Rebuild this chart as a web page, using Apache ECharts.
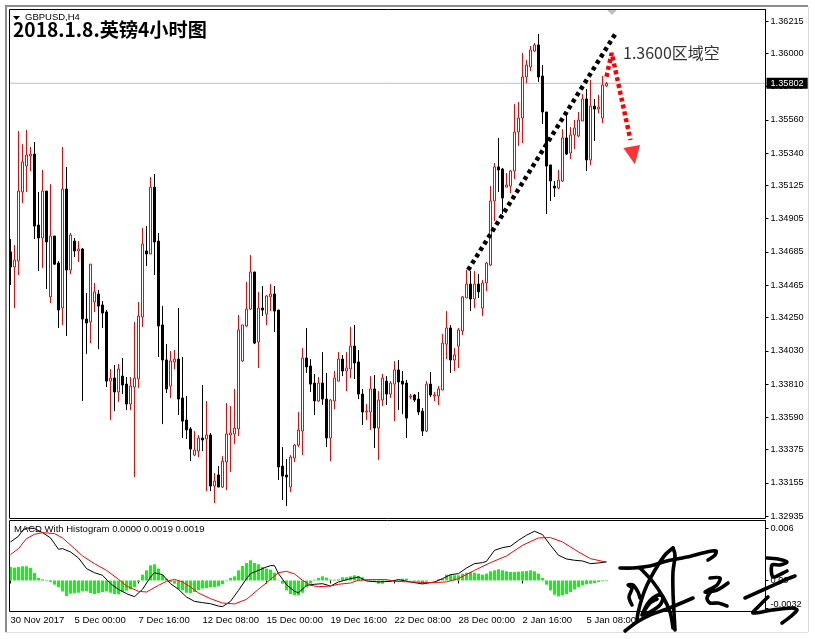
<!DOCTYPE html>
<html>
<head>
<meta charset="utf-8">
<script src="https://cdn.jsdelivr.net/npm/echarts@6/dist/echarts.min.js"></script>
<style>html,body{margin:0;padding:0;background:#fff}#c{width:815px;height:639px}</style>
</head>
<body>
<div id="c"></div>
<script>
// GBPUSD H4 prices in 1/100000 units, one entry per candle
const highs = [134770,134731,135486,135399,135493,135380,135413,135082,135228,135088,135134,134790,134624,135380,135248,134810,134777,134757,134711,134413,134604,134479,134433,134359,134300,133909,133936,133942,133982,133856,133856,134221,134353,134843,134856,135182,135201,134810,134326,134074,134028,134035,134313,133989,133730,133525,133498,133472,133803,133697,133485,133220,133266,133332,133684,133664,133777,134267,134201,134486,134664,134552,134420,134459,134400,134472,134459,134300,133392,133313,133339,133412,133624,134048,134181,133975,133876,133856,134021,133883,133710,133896,134021,134002,134021,134188,134201,134035,133777,133677,133862,133869,133763,133876,133862,133829,133962,133969,133896,133836,133743,133743,133757,133651,133829,133890,133757,133796,134141,134293,134201,134048,134181,134393,134565,134558,134558,134538,134499,134618,135121,135274,135440,135241,135208,135228,135664,135678,136003,135956,136049,136069,136129,135923,135612,135261,135155,135228,135499,135605,135512,135559,135612,135731,135764,135824,135698,135725,135850,135811];
const opens = [134685,134585,134624,135082,135254,135320,135333,134863,134777,135088,134387,134790,134611,134313,135101,134565,134757,134691,134704,134240,134221,134353,134406,134333,134287,133829,133849,133757,133862,133809,133677,133790,133843,134254,134691,134671,135114,134757,134201,133969,133796,133956,133975,133717,133571,133512,133339,133365,133452,133445,133472,133134,133207,133127,133293,133472,133479,133512,133962,134194,134306,134552,134088,134313,134273,134387,134406,134300,133266,133207,133127,133319,133405,133498,133982,133929,133816,133697,133816,133710,133452,133697,133829,133975,133896,133909,134061,133956,133743,133624,133624,133777,133518,133704,133829,133743,133809,133903,133829,133816,133723,133737,133710,133630,133498,133809,133730,133730,133770,134074,134181,133969,134061,134161,134380,134472,134373,134472,134313,134479,134598,135022,135248,135234,135114,135121,135221,135479,135572,135844,135910,136016,136056,135850,135612,135261,135121,135108,135155,135440,135340,135460,135453,135552,135698,135294,135651,135631,135572,135785];
const closes = [134585,134631,135088,135281,135327,135333,134856,134777,135088,134751,134790,134604,134300,135101,134565,134797,134691,134704,134240,134214,134604,134420,134326,134280,133829,133849,133757,133909,133803,133677,133796,133849,134260,134737,134671,135114,134751,134194,133969,133777,133962,133975,133710,133564,133505,133379,133372,133452,133439,133472,133134,133167,133127,133299,133479,133485,133518,134168,134201,134306,134552,134081,134313,134300,134393,134406,134293,133260,133200,133194,133326,133405,133505,133982,133923,133809,133697,133816,133710,133452,133704,133849,133975,133896,133916,134061,133949,133743,133624,133630,133777,133518,133704,133849,133743,133816,133903,133823,133809,133584,133730,133704,133624,133498,133809,133737,133737,133777,134081,134181,133969,134002,134168,134387,134472,134373,134472,134420,134479,134611,135022,135248,135228,135042,135128,135221,135479,135572,135844,135923,136023,136056,135844,135612,135254,135155,135108,135161,135440,135333,135460,135506,135559,135698,135294,135651,135631,135645,135791,135802];
const lows = [134466,134313,134532,135009,135082,135221,134770,134558,134578,134439,134346,134598,134181,134201,134128,134538,134651,134618,133697,134008,134081,134287,134041,134181,133790,133571,133630,133691,133743,133637,133637,133194,133783,134188,134591,134671,134532,133989,133544,133750,133717,133909,133604,133452,133445,133299,133332,133326,133365,133100,133100,133021,133127,133121,133107,133227,133412,133465,133956,134188,134300,134074,133916,134260,134201,134293,134155,133174,133041,133001,133094,133293,133392,133339,133883,133757,133604,133691,133671,133392,133299,133644,133829,133862,133763,133849,133843,133710,133538,133571,133505,133386,133306,133664,133671,133717,133564,133637,133610,133452,133710,133691,133604,133465,133491,133723,133697,133671,133770,133975,133883,133896,133916,134135,134380,134293,134313,134380,134260,134426,134591,134890,135082,134936,135114,135075,135168,135387,135406,135804,135883,136009,135811,135532,134936,135022,135049,135101,135148,135327,135300,135367,135446,135552,135221,135261,135420,135605,135539,135778];
// MACD pane
const histogram = [.00156,.00148,.00156,.00164,.00164,.00144,.00087,.00029,.00013,-.00006,-.00017,-.00048,-.00075,-.00125,-.00179,-.00152,-.00144,-.00141,-.00125,-.00121,-.00144,-.00156,-.00144,-.00133,-.00125,-.00141,-.00156,-.0016,-.00133,-.00117,-.00102,-.00075,-.00017,.00067,.00117,.00175,.00187,.00137,.00067,.00021,-.00017,-.00037,-.00102,-.00114,-.00141,-.00144,-.00133,-.0011,-.00094,-.00087,-.00079,-.00075,-.00067,-.00044,-.00006,.00029,.00048,.00117,.00167,.00202,.00233,.00202,.00187,.00156,.00137,.00125,.0009,.00002,-.00037,-.00114,-.00156,-.00171,-.00171,-.00141,-.00075,-.00037,.0001,.00029,.00048,.00033,.0001,.0001,.00013,.00037,.00037,.00048,.0006,.00052,.00037,.00013,-.0001,-.00013,-.00037,-.00037,-.00017,-.0001,.00002,.00013,.00021,.00021,-.00002,-.0001,-.00013,-.00037,-.00013,.00002,.00002,.00013,.00021,.00067,.00067,.0006,.0006,.00079,.0009,.00098,.0009,.00079,.00067,.00079,.00106,.00117,.00129,.00117,.00106,.00098,.00098,.00102,.00106,.0011,.00117,.00106,.00079,.00029,-.00048,-.00114,-.00164,-.00183,-.00171,-.00156,-.00133,-.00102,-.00075,-.00056,-.00044,-.00037,-.00029,-.00017,-.0001,-.00006];
const macdAt = [0,2,3,4,6,8,10,12,13,15,17,19,21,23,25,27,29,31,33,35,36,38,40,42,44,46,48,50,52,53,55,57,59,60,62,64,65,66,67,69,71,72,74,76,78,80,82,85,87,89,92,95,97,100,103,106,108,110,112,114,116,118,119,121,123,125,127,129,131,133,135,137,139,141,143,145,147,149];
const macdVal = [.00445,.0051,.00579,.00606,.00599,.00552,.00491,.0036,.00368,.00329,.0026,.00137,.0009,.0006,-.00037,-.00102,-.00152,-.00187,-.00102,.0004,.0009,.00067,-.00037,-.00102,-.00191,-.00241,-.00256,-.00268,-.00295,-.00302,-.00241,-.00114,.00021,.00079,.00117,.00156,.00171,.00171,.00079,-.00048,-.00125,-.00141,-.00056,-.00044,-.00037,-.00064,-.00017,.00021,.0004,-.00006,-.00017,-.0001,.0001,-.00017,-.0004,-.00017,.00021,.00067,.00079,.00144,.00194,.00206,.00221,.00348,.00379,.00395,.00464,.00522,.00568,.00529,.00406,.00291,.00248,.00233,.00225,.00194,.00202,.00214];
const signalAt = [0,2,4,6,8,11,13,16,18,21,24,27,29,32,34,37,39,41,43,45,47,50,53,56,59,62,65,67,69,71,73,75,77,80,82,85,87,90,94,96,100,105,109,112,116,120,124,128,132,135,138,142,145,148,149];
const signalVal = [.00298,.00368,.00483,.00533,.00552,.00541,.00491,.00368,.00283,.00194,.00117,.00013,-.00064,-.00125,-.00133,-.00056,-.0001,.00013,-.00017,-.00075,-.00144,-.0021,-.0026,-.00271,-.00218,-.00102,.00013,.0009,.00106,.00075,.00002,-.00056,-.00071,-.00064,-.00044,-.00029,.00002,.0001,.0001,-.0001,-.00017,-.00025,-.00017,.00021,.00117,.00206,.00283,.00406,.00491,.00495,.00445,.00329,.00252,.00221,.00214];
// axes
const priceTicks = [1.36215,1.36,1.3578,1.3556,1.3534,1.35125,1.34905,1.34685,1.34465,1.3425,1.3403,1.3381,1.3359,1.33375,1.33155,1.32935];
const macdTicks = [0.006,0,-0.0032];
const timeLabels = ['30 Nov 2017','5 Dec 00:00','7 Dec 16:00','12 Dec 08:00','15 Dec 00:00','19 Dec 16:00','22 Dec 08:00','28 Dec 00:00','2 Jan 16:00','5 Jan 08:00'];
const labelStep = 16, totalBands = 189, lastPrice = 1.35802;
// annotations drawn on the chart: candle position, price
const trendX = [114.4,151.5], trendY = [1.34565,1.36142];
const arrowX = [149,150.3,155], arrowY = [1.35846,1.36003,1.35426];
const arrowHead = [155.7,1.35325];

const categories = Array.from({length:totalBands},(_,i)=> i%labelStep===0 && timeLabels[i/labelStep] ? timeLabels[i/labelStep] : '');
const hasLabel = i => categories[i] !== '';
const candle = opens.map((o,i)=>[o/1e5,closes[i]/1e5,lows[i]/1e5,highs[i]/1e5]);
const FONT = '"Liberation Sans",sans-serif';

const signature = [
 [[620,568],[633,568],[650,566],[667,561],[687,557],[707,552],[716,551],[715,555],[708,560]],
 [[625,631],[637,622],[650,615],[667,609],[693,598]],
 [[673,548],[665,555],[655,570],[647,585],[642,598],[638,613],[637,620]],
 [[673,548],[675,555],[673,572],[673,592],[674,612],[675,630]],
 [[640,568],[653,582],[663,597],[670,612],[673,628]],
 [[632,605],[629,597],[632,588],[628,585],[633,585],[638,592],[640,598]],
 [[642,615],[648,603],[658,595],[663,597],[660,605],[650,612],[643,614],[650,603],[657,599]],
 [[710,578],[720,578],[717,585],[705,592],[717,590],[728,583]],
 [[712,590],[707,598],[710,603],[718,603],[727,606]],
 [[767,558],[778,559],[787,562],[780,565],[772,565],[773,577],[783,573],[787,571]],
 [[745,598],[765,589],[785,580],[795,576]],
 [[768,597],[758,607],[753,613],[772,610],[792,608],[797,610],[790,617],[782,623]]
];
const line = (x1,y1,x2,y2,color,w)=>({type:'line',silent:true,z:5,shape:{x1,y1,x2,y2},style:{stroke:color,lineWidth:w||1}});
const graphics = [
 line(5,6,808,6,'#8c8c8c',2), line(6,5,6,632,'#8c8c8c',2), line(808.5,7,808.5,632,'#d8d8d8',1), line(5,632.5,808,632.5,'#e0e0e0',1),
 line(9.5,9.5,765.5,9.5,'#000'), line(9.5,9.5,9.5,518,'#000'), line(9.5,518.5,765.5,518.5,'#000'),
 line(9.5,520.5,765.5,520.5,'#000'), line(9.5,520.5,9.5,611.5,'#000'), line(9.5,611.5,765.5,611.5,'#000'),
 {type:'polygon',silent:true,z:5,shape:{points:[[607,10],[617,10],[612,15]]},style:{fill:'#c0c0c0'}},
 {type:'polygon',silent:true,z:5,shape:{points:[[13,16],[20,16],[16.5,20]]},style:{fill:'#000'}},
 {type:'text',silent:true,z:6,x:25,y:12,style:{text:'GBPUSD,H4',font:'9.5px '+FONT,fill:'#000'}},
 {type:'text',silent:true,z:7,x:13,y:20,style:{text:'2018.1.8.英镑4小时图',font:'bold 19.2px "Noto Sans CJK SC"',fill:'#000'}},
 {type:'text',silent:true,z:7,x:623,y:45,style:{text:'1.3600区域空',font:'16px "Noto Sans CJK SC"',fill:'#333'}},
 {type:'text',silent:true,z:6,x:14,y:524,style:{text:'MACD With Histogram 0.0000 0.0019 0.0019',font:'9.5px '+FONT,fill:'#000'}}
];
signature.forEach(p=>graphics.push({type:'polyline',silent:true,z:20,shape:{points:p,smooth:0.3},style:{stroke:'#000',lineWidth:3.6,fill:null,lineCap:'round',lineJoin:'round'}}));

const chart = echarts.init(document.getElementById('c'),null,{renderer:'canvas'});
chart.setOption({
 animation:false,
 backgroundColor:'#fff',
 graphic:{elements:graphics},
 grid:[
  {left:8.5,top:9.5,width:756,height:508.5},
  {left:8.5,top:520.5,width:756,height:91}
 ],
 xAxis:[
  {type:'category',gridIndex:0,data:categories,show:false},
  {type:'category',gridIndex:1,data:categories,position:'bottom',
   axisLine:{show:false},
   axisTick:{show:true,length:3,alignWithLabel:true,interval:hasLabel,lineStyle:{color:'#000'}},
   axisLabel:{show:true,interval:hasLabel,align:'left',margin:4,fontSize:9.5,fontFamily:FONT,color:'#000',hideOverlap:false}},
  {type:'value',gridIndex:0,show:false,min:-0.5,max:totalBands-0.5}
 ],
 yAxis:[
  {type:'value',gridIndex:0,position:'right',offset:1,min:1.32922,max:1.36291,scale:true,splitLine:{show:false},
   axisLine:{show:true,onZero:false,lineStyle:{color:'#000'}},
   axisTick:{show:true,length:3,customValues:priceTicks,lineStyle:{color:'#000'}},
   axisLabel:{show:true,customValues:priceTicks,margin:5,fontSize:9.2,fontFamily:FONT,color:'#000',showMinLabel:true,showMaxLabel:true,
     formatter:v=>Number(v).toFixed(5)}},
  {type:'value',gridIndex:1,position:'right',offset:1,min:-0.00358,max:0.00692,splitLine:{show:false},
   axisLine:{show:true,onZero:false,lineStyle:{color:'#000'}},
   axisTick:{show:true,length:3,customValues:macdTicks,lineStyle:{color:'#000'}},
   axisLabel:{show:true,customValues:macdTicks,margin:5,fontSize:9.2,fontFamily:FONT,color:'#000',
     formatter:v=> v===0?'0.00':(v<0?'{low|'+v+'}':String(v)),
     rich:{low:{fontSize:9.2,fontFamily:FONT,color:'#000',padding:[0,0,7,0]}}}}
 ],
 series:[
  {type:'line',name:'last',xAxisIndex:2,yAxisIndex:0,data:[[-0.5,lastPrice],[totalBands-0.5,lastPrice]],showSymbol:false,silent:true,z:1,
   lineStyle:{color:'#c0c0c0',width:1},
   endLabel:{show:true,distance:2,formatter:()=>lastPrice.toFixed(5),backgroundColor:'#000',color:'#fff',fontSize:9.2,fontFamily:FONT,padding:[1,4,1,4]}},
  {type:'candlestick',name:'GBPUSD',xAxisIndex:0,yAxisIndex:0,data:candle,barWidth:2,clip:true,z:2,
   itemStyle:{color:'#fff',color0:'#000',borderColor:'#f00',borderColor0:'#000',borderWidth:1}},
  {type:'line',name:'trend',xAxisIndex:2,yAxisIndex:0,data:trendX.map((x,i)=>[x,trendY[i]]),showSymbol:false,silent:true,z:6,
   lineStyle:{color:'#000',width:4.5,type:[4,3.6]}},
  {type:'line',name:'short',xAxisIndex:2,yAxisIndex:0,data:arrowX.map((x,i)=>[x,arrowY[i]]),showSymbol:false,silent:true,z:6,
   lineStyle:{color:'#f00',width:4.5,type:[4,3]}},
  {type:'scatter',name:'head',xAxisIndex:2,yAxisIndex:0,data:[arrowHead],symbol:'triangle',symbolSize:[17,18],symbolRotate:190,silent:true,z:6,
   itemStyle:{color:'#f00'}},
  {type:'bar',name:'histogram',xAxisIndex:1,yAxisIndex:1,data:histogram,barWidth:3,itemStyle:{color:'#00ff00'},silent:true},
  {type:'line',name:'macd',xAxisIndex:1,yAxisIndex:1,data:macdAt.map((x,i)=>[x,macdVal[i]]),showSymbol:false,silent:true,z:4,
   lineStyle:{color:'#000',width:1}},
  {type:'line',name:'signal',xAxisIndex:1,yAxisIndex:1,data:signalAt.map((x,i)=>[x,signalVal[i]]),showSymbol:false,silent:true,z:5,
   lineStyle:{color:'#f00',width:1}}
 ]
});
</script>
</body>
</html>
